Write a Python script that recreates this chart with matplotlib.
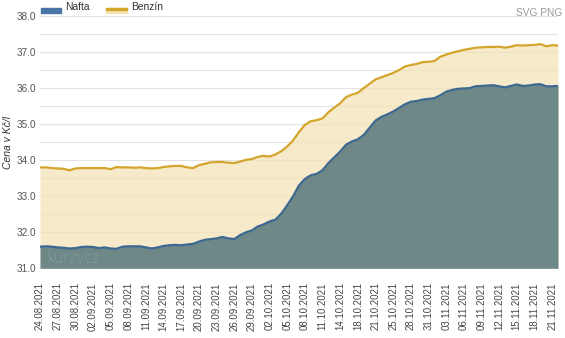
import matplotlib
matplotlib.use("Agg")
import matplotlib.pyplot as plt
from matplotlib.patches import Rectangle
import pandas as pd

# ---- data ----
all_days = pd.date_range("2021-08-24", "2021-11-22", freq="D")
missing = [pd.Timestamp("2021-10-16"), pd.Timestamp("2021-10-23")]
dates = [d.strftime("%d.%m.%Y") for d in all_days if d not in missing]

benzin = [33.80, 33.80, 33.78, 33.77, 33.76, 33.72, 33.77, 33.78, 33.78, 33.78,
          33.78, 33.78, 33.75, 33.81, 33.80, 33.80, 33.79, 33.80, 33.78, 33.77,
          33.78, 33.81, 33.83, 33.84, 33.84, 33.80, 33.78, 33.86, 33.90, 33.94,
          33.95, 33.95, 33.93, 33.92, 33.96, 34.01, 34.03, 34.09, 34.12, 34.10,
          34.16, 34.25, 34.38, 34.55, 34.78, 34.98, 35.08, 35.11, 35.16, 35.33,
          35.46, 35.58, 35.75, 35.82, 35.87, 36.00, 36.12, 36.24, 36.30, 36.36,
          36.42, 36.50, 36.60, 36.64, 36.67, 36.72, 36.73, 36.75, 36.87, 36.93,
          36.98, 37.02, 37.06, 37.09, 37.12, 37.13, 37.14, 37.14, 37.15, 37.12,
          37.15, 37.19, 37.18, 37.19, 37.20, 37.22, 37.16, 37.19, 37.18]

nafta = [31.60, 31.61, 31.60, 31.58, 31.57, 31.55, 31.56, 31.59, 31.60, 31.59,
         31.56, 31.58, 31.55, 31.54, 31.60, 31.61, 31.61, 31.61, 31.58, 31.55,
         31.58, 31.62, 31.64, 31.65, 31.64, 31.66, 31.68, 31.74, 31.79, 31.81,
         31.83, 31.87, 31.83, 31.81, 31.92, 32.00, 32.05, 32.16, 32.22, 32.30,
         32.35, 32.52, 32.75, 33.00, 33.30, 33.48, 33.58, 33.62, 33.72, 33.92,
         34.08, 34.24, 34.43, 34.52, 34.58, 34.70, 34.90, 35.10, 35.20, 35.27,
         35.35, 35.45, 35.55, 35.62, 35.64, 35.68, 35.70, 35.72, 35.80, 35.90,
         35.95, 35.98, 35.99, 36.00, 36.05, 36.06, 36.07, 36.08, 36.05, 36.02,
         36.06, 36.10, 36.06, 36.07, 36.10, 36.11, 36.05, 36.05, 36.06]

series_names = ["Nafta", "Benzín"]
y_min, y_max = 31.0, 38.0

# ---- style ----
FONT = ["Liberation Sans", "DejaVu Sans"]
plt.rcParams["font.family"] = FONT

c_benz_line = "#d4a52a"
c_benz_fill = "#f4e3ba"
c_naf_line = "#3c6892"
c_naf_fill = "#56777b"

fig = plt.figure(figsize=(5.65, 3.38), dpi=100)
W, H = 565, 338
ax = fig.add_axes([40 / W, 1 - 268.3 / H, 518 / W, (268.3 - 16) / H])

x = list(range(len(dates)))

# grid
for v in [y_min + 0.5 * k for k in range(15)]:
    ax.axhline(v, color="#e3e3e3", lw=0.8, zorder=0)

ax.fill_between(x, benzin, y_min, color=c_benz_fill, alpha=0.75, lw=0, zorder=1)
ax.plot(x, benzin, color=c_benz_line, lw=1.6, zorder=3, solid_joinstyle="round")
ax.fill_between(x, nafta, y_min, color=c_naf_fill, alpha=0.85, lw=0, zorder=2)
ax.plot(x, nafta, color=c_naf_line, lw=1.6, zorder=3, solid_joinstyle="round")

ax.set_xlim(0, len(dates) - 1)
ax.set_ylim(y_min, y_max)
ax.set_yticks([31, 32, 33, 34, 35, 36, 37, 38])
ax.set_yticklabels([f"{v:.1f}" for v in [31, 32, 33, 34, 35, 36, 37, 38]],
                   fontsize=7.2, color="#555555")
ticks = x[::3]
ax.set_xticks(ticks)
ax.set_xticklabels([dates[i] for i in ticks], rotation=90, fontsize=6.9,
                   color="#444444", va="top", ha="center")
ax.tick_params(axis="both", length=0, pad=3)
ax.tick_params(axis="x", pad=10)
for s in ax.spines.values():
    s.set_visible(False)

ax.set_ylabel("Cena v Kč/l", fontsize=7.5, style="italic", color="#333333",
              labelpad=2.5)

# watermark
ax.text(0.015, 0.01, "kurzycz", transform=ax.transAxes, fontsize=12,
        color="#b3c3c3", family=["Lato", "DejaVu Sans"], fontweight="light",
        ha="left", va="bottom", zorder=4)

# legend (top)
fig.patches.append(Rectangle((41 / W, 1 - 12.5 / H), 20 / W, 4.5 / H,
                             transform=fig.transFigure, color="#4a74a6"))
fig.text(65.5 / W, 1 - 7.5 / H, series_names[0], fontsize=7.4, color="#333333",
         va="center", ha="left")
fig.patches.append(Rectangle((106 / W, 1 - 12.5 / H), 21 / W, 4.5 / H,
                             transform=fig.transFigure, color="#f3e2b0"))
fig.patches.append(Rectangle((106 / W, 1 - 10 / H), 21 / W, 2 / H,
                             transform=fig.transFigure, color=c_benz_line))
fig.text(131 / W, 1 - 7.5 / H, series_names[1], fontsize=7.4, color="#333333",
         va="center", ha="left")

fig.text(562 / W, 1 - 13 / H, "SVG PNG", fontsize=7.3, color="#999999",
         ha="right", va="center")

fig.savefig("out.png", dpi=100)
